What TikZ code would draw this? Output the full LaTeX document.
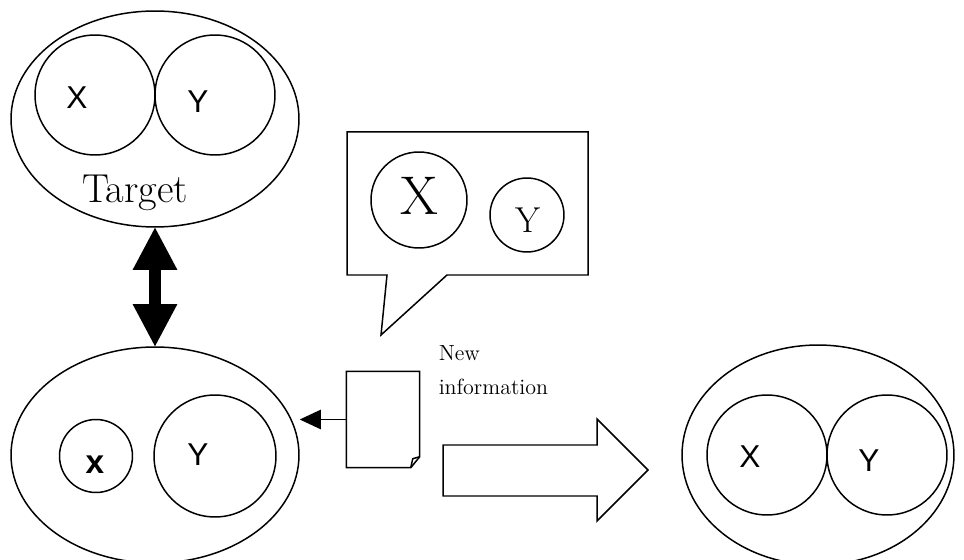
\documentclass[tikz,border=0pt]{standalone}
\usepackage{fontspec}
\usepackage{tikz}
\usetikzlibrary{arrows.meta, positioning, shapes.geometric, calc}
\newfontfamily\labelfont{Liberation Sans}
\tikzset{%
	set ellipse/.style={
		ellipse,
		draw,
		inner sep=0pt,
		minimum width=5.76cm,
		minimum height=4.32cm
	},
	set circle/.style={
		circle,
		draw,
		inner sep=0pt,
		minimum size=2.4cm
	},
	set label/.style={
		inner sep=0pt,
		font=\labelfont\fontsize{18}{20}\selectfont
	},
	big tip/.style={
		line width=6.8pt,
		{Triangle[width=25.5pt,length=24pt,line width=0pt]}-{Triangle[width=25.5pt,length=24pt,line width=0pt]}
	},
}

\begin{document}
\begin{tikzpicture}[x=0.02cm, y=-0.02cm, line width=0.85pt]
	\useasboundingbox (0,0) rectangle (964,560);

	% Draw the target set
	\node[set ellipse] (target) at (155,119) {};
	\node[set circle] (tx) at (95,95) {};
	\node[set circle] (ty) at (215,95) {};
	\node[set label] (txl) at (77,98) {X};
	\node[set label] (tyl) at (198,102) {Y};
	\node[inner sep=0pt, font=\fontsize{23}{26}\selectfont] (tname) at (135,193) {Target};

	% Draw the current set
	\node[set ellipse] (current) at (155,455) {};
	\node[set circle, minimum size=1.46cm] (cx) at (96,456) {};
	\node[set circle, minimum size=2.44cm] (cy) at (215,456) {};
	\node[set label, font=\labelfont\bfseries\fontsize{19}{20}\selectfont] (cxl) at (95,465) {x};
	\node[set label] (cyl) at (198,455) {Y};

	% Draw the arrow between target and current
	\draw[big tip] (target.south) -- (current.north);

	% Draw the speech bubble
	\draw (347,132) -- (588,132) -- (588,275) -- (447,275) -- (381,335) -- (387,275) -- (347,275) -- cycle;
	\node[set circle, minimum size=1.92cm] (bx) at (419,200) {};
	\node[set circle, minimum size=1.48cm] (by) at (527,215) {};
	\node[inner sep=0pt, font=\fontsize{31}{34}\selectfont] (bxl) at (419,196) {X};
	\node[inner sep=0pt, font=\fontsize{20.5}{23}\selectfont] (byl) at (528,220) {Y};

	% Draw the document with the folded corner
	\node[minimum width=1.44cm, minimum height=1.9cm, inner sep=0pt] (doc) at (383,419.5) {};
	\draw (doc.north west) -- (doc.north east) -- ($(doc.south east)+(0,-11)$)
		-- ($(doc.south east)+(-9,0)$) -- (doc.south west) -- cycle;
	\draw ($(doc.south east)+(-9,0)$) -- ($(doc.south east)+(-7,-9)$) -- ($(doc.south east)+(0,-11)$);
	\draw[-{Triangle[width=11pt,length=12pt]}] (doc.west) -- (doc.west -| current.east);
	\node[inner sep=0pt, anchor=west, align=left, font=\fontsize{12.5}{19}\selectfont] (newinfo) at (438,370) {New\\information};

	% Draw the block arrow
	\draw (443,445) -- (597,445) -- (597,419) -- (648,470) -- (597,521) -- (597,496) -- (443,496) -- cycle;

	% Draw the resulting set
	\node[set ellipse, minimum width=5.44cm, minimum height=4.4cm] (result) at (818,455) {};
	\node[set circle] (rx) at (767,455) {};
	\node[set circle] (ry) at (887,455) {};
	\node[set label] (rxl) at (750,457) {X};
	\node[set label] (ryl) at (869,461) {Y};
\end{tikzpicture}
\end{document}
